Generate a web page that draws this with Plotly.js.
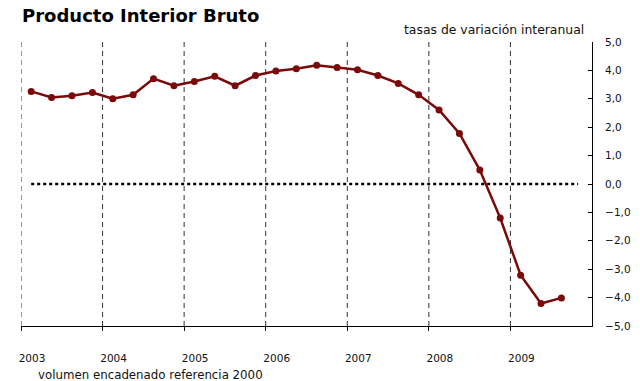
<!DOCTYPE html>
<html>
<head>
<meta charset="utf-8">
<script src="https://cdn.plot.ly/plotly-3.0.1.min.js"></script>
<style>html,body{margin:0;padding:0;background:#fff}#chart{width:640px;height:381px}</style>
</head>
<body>
<div id="chart"></div>
<script>
// Quarterly data 2003Q1 .. 2009Q3
const years = [2003,2003,2003,2003,2004,2004,2004,2004,2005,2005,2005,2005,2006,2006,2006,2006,2007,2007,2007,2007,2008,2008,2008,2008,2009,2009,2009];
const quarters = [1,2,3,4,1,2,3,4,1,2,3,4,1,2,3,4,1,2,3,4,1,2,3,4,1,2,3];
const pib = [3.26,3.05,3.11,3.22,3.00,3.14,3.71,3.46,3.61,3.79,3.46,3.82,3.98,4.06,4.18,4.10,4.02,3.82,3.54,3.14,2.61,1.78,0.49,-1.20,-3.21,-4.21,-4.01];
const yearTicks = [2003,2004,2005,2006,2007,2008,2009];
const yearLabels = ['2003','2004','2005','2006','2007','2008','2009'];
const zeroLineEnd = 2009.83;

const xq = years.map((y,i)=> y + (quarters[i]-0.5)/4);

const font = 'DejaVu Sans, Verdana, sans-serif';

const trace = {
  x: xq, y: pib, type: 'scatter', mode: 'lines+markers',
  line: {color: '#7a0a0a', width: 2.5},
  marker: {color: '#7a0a0a', size: 7},
  hoverinfo: 'skip', showlegend: false
};

const gridShapes = yearTicks.map(v => ({
  type: 'line', xref: 'x', yref: 'paper', x0: v, x1: v, y0: 0, y1: 1, layer: 'below',
  line: {color: '#333', width: 1, dash: '5px,4px'}
}));

const layout = {
  width: 640, height: 381,
  margin: {l: 21, r: 48, t: 42, b: 55},
  paper_bgcolor: '#fff', plot_bgcolor: '#fff',
  separators: ',.',
  font: {family: font, size: 11, color: '#111'},
  xaxis: {
    range: [2003, 2010], tickvals: yearTicks, ticktext: yearLabels,
    showgrid: false, zeroline: false, showline: true, linecolor: '#000', linewidth: 1,
    ticks: 'outside', ticklen: 4, tickcolor: '#000',
    ticklabelshift: 11, ticklabelstandoff: 18,
    tickfont: {family: font, size: 10.5, color: '#111'}, fixedrange: true
  },
  yaxis: {
    range: [-5, 5], dtick: 1, tick0: 0, tickformat: '.1f', side: 'right',
    showgrid: false, zeroline: false, showline: true, linecolor: '#000', linewidth: 1,
    ticks: 'inside', ticklen: 4, tickcolor: '#000', ticklabelstandoff: 10,
    tickfont: {family: font, size: 10.5, color: '#111'}, fixedrange: true
  },
  shapes: gridShapes.concat([{
    type: 'line', xref: 'x', yref: 'y', x0: xq[0], x1: zeroLineEnd, y0: 0, y1: 0,
    line: {color: '#000', width: 2.5, dash: '3px,3px'}
  }]),
  annotations: [
    {text: '<b>Producto Interior Bruto</b>', xref: 'paper', yref: 'paper', x: -0.002, y: 1, xanchor: 'left', yanchor: 'bottom', yshift: 14, showarrow: false, font: {family: font, size: 18, color: '#000'}},
    {text: 'tasas de variación interanual', xref: 'paper', yref: 'paper', x: 0.99, y: 1, xanchor: 'right', yanchor: 'bottom', yshift: 3, showarrow: false, font: {family: font, size: 12.4, color: '#111'}},
    {text: 'volumen encadenado referencia 2000', xref: 'paper', yref: 'paper', x: 0.026, y: 0, xanchor: 'left', yanchor: 'middle', yshift: -49, showarrow: false, font: {family: font, size: 11.8, color: '#111'}}
  ]
};

Plotly.newPlot('chart', [trace], layout, {displayModeBar: false, staticPlot: true});
</script>
</body>
</html>
